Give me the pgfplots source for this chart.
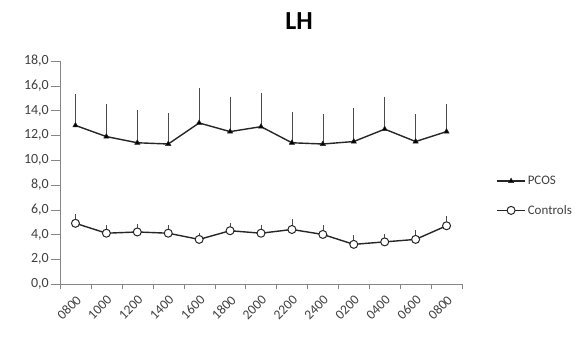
\documentclass[border=0pt]{standalone}
\usepackage{pgfplots}
\usepackage{pgfplotstable}
\pgfplotsset{compat=1.18}
\usepackage{fontspec}
\setmainfont{Carlito}
\definecolor{axgray}{HTML}{868686}
\definecolor{ln}{HTML}{262626}
\pgfplotstableread{
x y e
0 12.8 2.2
1 11.9 2.3
2 11.4 2.3
3 11.3 2.2
4 13.0 2.5
5 12.3 2.5
6 12.7 2.4
7 11.4 2.2
8 11.3 2.1
9 11.5 2.4
10 12.5 2.3
11 11.5 1.9
12 12.3 1.9
}\pcos
\pgfplotstableread{
x y e
0 4.9 0.4
1 4.1 0.3
2 4.2 0.3
3 4.1 0.3
4 3.6 0.2
5 4.3 0.3
6 4.1 0.3
7 4.4 0.5
8 4.0 0.4
9 3.2 0.4
10 3.4 0.3
11 3.6 0.4
12 4.7 0.5
}\controls
\begin{document}
\begin{tikzpicture}[x=1pt,y=1pt]
\path[use as bounding box] (0,0) rectangle (576,341);
\node[font=\fontsize{26}{28}\selectfont\bfseries] at (299,320) {LH};
\begin{axis}[
  at={(60pt,57pt)}, anchor=south west,
  scale only axis, width=402pt, height=223pt,
  xmin=-0.5, xmax=12.5, ymin=0, ymax=18,
  axis x line*=bottom, axis y line*=left,
  axis line style={axgray, line width=0.6pt},
  xtick={0,...,12},
  xticklabels={0800,1000,1200,1400,1600,1800,2000,2200,2400,0200,0400,0600,0800},
  x tick label style={rotate=45, anchor=north east, inner sep=1pt, font=\fontsize{13.5}{15}\selectfont, text=black!75},
  major x tick style={draw=none},
  minor xtick={-0.5,0.5,...,12.5},
  minor x tick style={axgray},
  ytick={0,2,...,18},
  yticklabel={\pgfmathprintnumber[fixed,fixed zerofill,precision=1,use comma]{\tick}},
  y tick label style={font=\fontsize{14}{15}\selectfont, text=black!75, inner sep=2pt},
  /pgf/number format/assume math mode=true,
  y tick style={axgray},
  tick align=outside,
  major tick length=9pt, minor tick length=5pt,
  legend style={at={(1.085,0.395)}, anchor=west, draw=none, fill=none,
    font=\fontsize{13}{14}\selectfont, row sep=15pt, text=black!75, inner xsep=0pt},
  legend cell align=left,
  legend image code/.code={
    \draw[mark repeat=2,mark phase=2] plot coordinates {(0pt,0pt) (14pt,0pt) (28pt,0pt)};},
  clip=false,
]
\addplot[ln, line width=1.4pt, mark=triangle*, mark size=3pt, mark options={solid, fill=black, line width=0.5pt},
  error bars/.cd, y dir=plus, y explicit, error mark=-, error mark options={black!70, line width=0.6pt, mark size=4pt},
  error bar style={black!70, line width=0.6pt}]
  table[x=x, y=y, y error=e]{\pcos};
\addlegendentry{PCOS}
\addplot[ln, line width=1.4pt, mark=*, mark size=4pt, mark options={solid, fill=white, draw=ln, line width=1pt},
  error bars/.cd, y dir=plus, y explicit, error mark=-, error mark options={black!70, line width=0.6pt, mark size=4pt},
  error bar style={black!70, line width=0.6pt}]
  table[x=x, y=y, y error=e]{\controls};
\addlegendentry{Controls}
\end{axis}
\end{tikzpicture}
\end{document}
